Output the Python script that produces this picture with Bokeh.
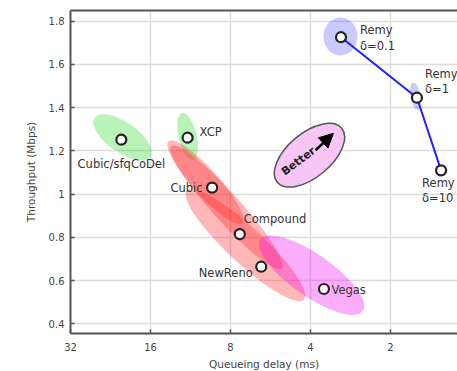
import math
from bokeh.plotting import figure
from bokeh.models import (Range1d, FixedTicker, LogAxis, ColumnDataSource, Label,
                          Arrow, NormalHead, Title)
from bokeh.embed import file_html
from bokeh.resources import INLINE
from bokeh.core.properties import value

# ---------------- data ----------------
schemes = ["Cubic/sfqCoDel", "XCP", "Cubic", "Compound", "NewReno", "Vegas"]
delay = [20.6, 11.6, 9.38, 7.38, 6.13, 3.56]          # ms
throughput = [1.252, 1.261, 1.030, 0.815, 0.664, 0.561]  # Mbps

remy_names = ["Remy\nδ=0.1", "Remy\nδ=1", "Remy\nδ=10"]
remy_delay = [3.07, 1.59, 1.29]
remy_throughput = [1.726, 1.446, 1.110]

# 1-sigma ellipses (centre in data units)
ell_delay = [20.4, 11.6, 9.94, 8.28, 7.03, 3.96, 3.085, 1.61]
ell_throughput = [1.263, 1.267, 1.055, 0.939, 0.764, 0.625, 1.729, 1.452]
ell_major = [68, 48, 110, 165, 160, 125, 34, 28]
ell_minor = [30, 18, 26, 28, 36, 42, 38, 10]
ell_angle_deg = [-35, -77, -48, -48, -43, -35, 0, -80]
ell_color = ["#22dd22", "#22dd22", "#ff2020", "#ff2020", "#ff2020",
             "#ee00ee", "#3333ff", "#3333ff"]
ell_alpha = [0.32, 0.32, 0.32, 0.32, 0.32, 0.32, 0.26, 0.26]

x_ticks = [32, 16, 8, 4, 2]
x_tick_labels = ["32", "16", "8", "4", "2"]
y_ticks = [0.4, 0.6, 0.8, 1.0, 1.2, 1.4, 1.6, 1.8]
y_tick_labels = ["0.4", "0.6", "0.8", "1", "1.2", "1.4", "1.6", "1.8"]

# label placement (screen offsets)
lab_dx = [0, 12, -9.5, 4, -8.5, 7.5]
lab_dy = [24, -6, 0, -15, 6, 1]
lab_align = ["center", "left", "right", "left", "right", "left"]
remy_dx = [19, 8, -19]
remy_dy = [1, -16, 20]

FONT = "DejaVu Sans"

p = figure(width=457, height=371, x_axis_type="log",
           x_range=Range1d(32, 1.119), y_range=Range1d(0.355, 1.8495),
           output_backend="svg", toolbar_location=None,
           min_border_left=70, min_border_right=0, min_border_top=10,
           min_border_bottom=38)
p.outline_line_color = None
p.background_fill_color = "white"

# axes
xa = p.below[0]
ya = p.left[0]
xa.ticker = FixedTicker(ticks=x_ticks)
ya.ticker = FixedTicker(ticks=y_ticks)
xa.major_label_overrides = {float(t): l for t, l in zip(x_ticks, x_tick_labels)}
ya.major_label_overrides = {float(t): l for t, l in zip(y_ticks, y_tick_labels)}
for ax in (xa, ya):
    ax.axis_line_color = "#555555"
    ax.axis_line_width = 2
    ax.major_tick_line_color = "#555555"
    ax.major_tick_line_width = 1.5
    ax.major_tick_in = 4
    ax.major_tick_out = 0
    ax.minor_tick_line_color = None
    ax.major_label_text_font = FONT
    ax.major_label_text_font_size = "10px"
    ax.major_label_text_color = "#444444"
xa.major_label_standoff = 9
ya.major_label_standoff = 6
ya.axis_label = "Throughput (Mbps)"
ya.axis_label_text_font = FONT
ya.axis_label_text_font_size = "10.5px"
ya.axis_label_text_font_style = "normal"
ya.axis_label_text_color = "#444444"
ya.axis_label_standoff = 9

top = LogAxis(ticker=FixedTicker(ticks=[]), axis_line_color="#555555",
              axis_line_width=2, major_tick_line_color=None,
              minor_tick_line_color=None)
p.add_layout(top, "above")

p.add_layout(Title(text="Queueing delay (ms)", align="center", offset=9,
                   text_font=FONT, text_font_size="10.5px", text_font_style="normal",
                   text_color="#444444", standoff=4), "below")

p.xgrid.ticker = FixedTicker(ticks=x_ticks)
p.ygrid.ticker = FixedTicker(ticks=y_ticks)
p.grid.grid_line_color = "#dcdcdc"
p.grid.grid_line_width = 1.5

# ellipses
esrc = ColumnDataSource(dict(x=ell_delay, y=ell_throughput, w=ell_major, h=ell_minor,
                             a=[math.radians(d) for d in ell_angle_deg], c=ell_color,
                             fa=ell_alpha))
p.ellipse(x="x", y="y", width="w", height="h", angle="a", source=esrc,
          width_units="screen", height_units="screen",
          fill_color="c", fill_alpha="fa", line_color=None)

# "Better" badge
p.ellipse(x=[4.035], y=[1.18], width=[84], height=[44], angle=[math.radians(40)],
          width_units="screen", height_units="screen",
          fill_color="#f7c6f7", line_color="#555555", line_width=1.5)
p.add_layout(Arrow(x_start=3.83, y_start=1.203, x_end=3.28, y_end=1.281,
                   line_color="black", line_width=2.5,
                   end=NormalHead(size=14, fill_color="black", line_color="black")))
p.add_layout(Label(x=4.44, y=1.152, text="Better", angle=math.radians(37),
                   text_font=FONT, text_font_size="11px",
                   text_font_style="bold", text_align="center",
                   text_baseline="middle", text_color="#222222"))

# Remy line + points
p.line(remy_delay, remy_throughput, line_color="#1f1fff", line_width=2)
p.scatter(delay + remy_delay, throughput + remy_throughput, marker="circle", size=10,
          fill_color="white", line_color="#222222", line_width=2.2)

# labels
lsrc = ColumnDataSource(dict(x=delay, y=throughput, t=schemes, dx=lab_dx, dy=lab_dy,
                             al=lab_align))
p.text(x="x", y="y", text="t", x_offset="dx", y_offset="dy", text_align="al",
       text_baseline="middle", text_font=value(FONT), text_font_size="11.5px",
       text_color="#333333", source=lsrc)
rsrc = ColumnDataSource(dict(x=remy_delay, y=remy_throughput, t=remy_names,
                             dx=remy_dx, dy=remy_dy))
p.text(x="x", y="y", text="t", x_offset="dx", y_offset="dy", text_align="left",
       text_baseline="middle", text_font=value(FONT), text_font_size="11.5px",
       text_line_height=1.1, text_color="#333333", source=rsrc)

open("out.html", "w").write(file_html(p, INLINE))
